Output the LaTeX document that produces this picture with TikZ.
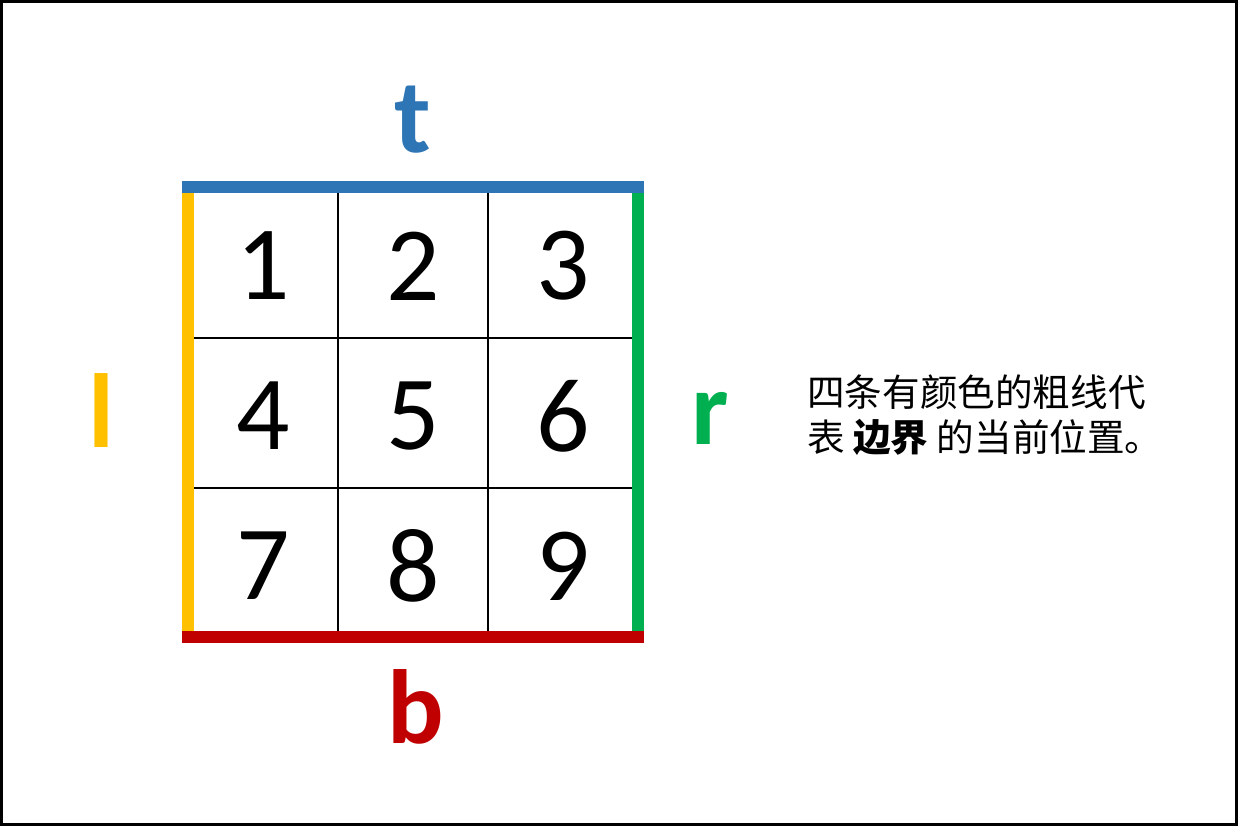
\documentclass[tikz,border=0pt]{standalone}
\usepackage{fontspec}
\setmainfont{Carlito}
\newfontfamily\cjk{Noto Sans CJK SC}
\usepackage{tikz}
\definecolor{edgeblue}{RGB}{46,117,182}
\definecolor{edgeyellow}{RGB}{255,192,0}
\definecolor{edgegreen}{RGB}{0,176,80}
\definecolor{edgered}{RGB}{192,0,0}
\tikzset{
    cellnum/.style={font=\fontsize{60}{60}\selectfont},
    sidename/.style={font=\fontsize{60}{60}\selectfont\bfseries},
    edge/.style={line width=6.8pt}
}

\begin{document}
\begin{tikzpicture}[x=0.02cm,y=-0.02cm]

            \useasboundingbox (0,0) rectangle (1238,833);
            \draw[line width=1.7pt] (1.5,1.5) rectangle (1236,824);

            % grid
            \draw[line width=0.85pt] (188,187) rectangle (638,637);
            \draw[line width=0.85pt] (338,187) -- (338,637);
            \draw[line width=0.85pt] (488,187) -- (488,637);
            \draw[line width=0.85pt] (188,338) -- (638,338);
            \draw[line width=0.85pt] (188,488) -- (638,488);

            % numbers
            \foreach \n [evaluate=\n as \col using {int(mod(\n-1,3))},
                         evaluate=\n as \row using {int((\n-1)/3)}] in {1,...,9}
                \node[cellnum] (c\n) at (263+150*\col, 266+150*\row) {\n};

            % borders
            \coordinate (tl) at (182,187);
            \coordinate (tr) at (644,187);
            \coordinate (bl) at (182,637);
            \coordinate (br) at (644,637);

            \draw[edge, edgeyellow] (188,192) -- (188,632);
            \draw[edge, edgegreen] (638,192) -- (638,632);
            \draw[edge, edgeblue] (tl) -- (tr);
            \draw[edge, edgered] (bl) -- (br);

            \node[sidename, text=edgeblue] (lt) at (413,120) {t};
            \node[sidename, text=edgered] (lb) at (416,707) {b};
            \node[sidename, text=edgeyellow] (ll) at (101,411) {l};
            \node[sidename, text=edgegreen] (lr) at (710,418) {r};

            \node[anchor=west, align=left, inner sep=0pt,
                  font=\cjk\fontsize{21.4}{25.5}\selectfont] (note) at (807,415)
                {四条有颜色的粗线代\\表 \textbf{边界} 的当前位置。};

\end{tikzpicture}
\end{document}
